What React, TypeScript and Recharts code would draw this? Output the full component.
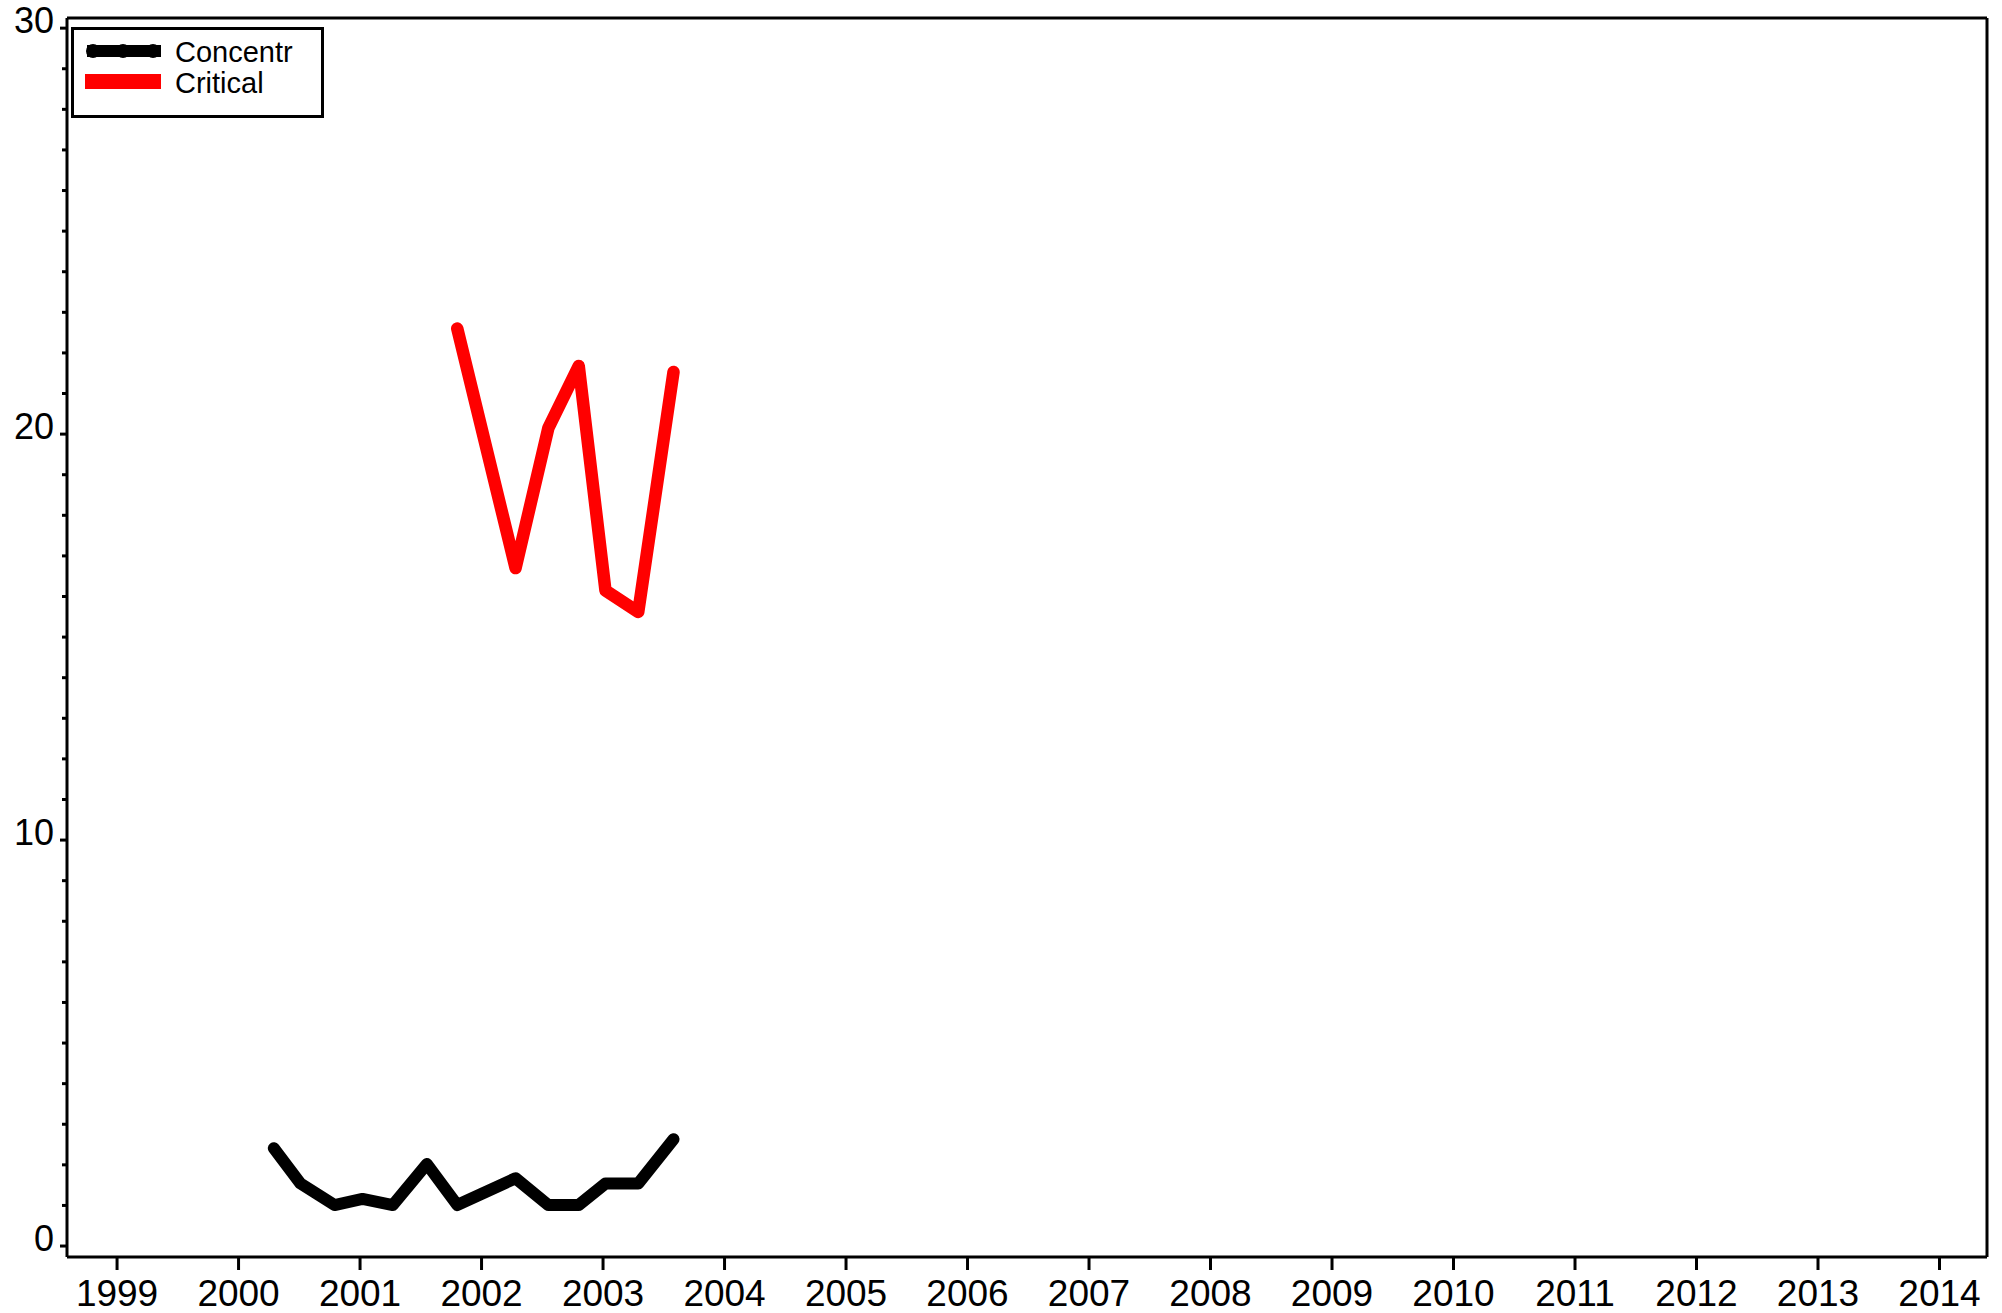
import React from "react";
import { LineChart, Line, XAxis, YAxis, Legend } from "recharts";

// quarterly observations, x read as decimal years
const obsTimes = [
  2000.29, 2000.51, 2000.79, 2001.02, 2001.27, 2001.55, 2001.8,
  2002.28, 2002.55, 2002.8, 2003.02, 2003.29, 2003.58,
];
const concentr = [2.41, 1.54, 1.01, 1.16, 1.01, 2.02, 1.01, 1.67, 1.01, 1.01, 1.54, 1.54, 2.63];
const critical = [null, null, null, null, null, null, 22.6, 16.7, 20.15, 21.68, 16.15, 15.62, 21.53];

const yearTicks = [1999, 2000, 2001, 2002, 2003, 2004, 2005, 2006, 2007, 2008, 2009, 2010, 2011, 2012, 2013, 2014];
const valueTicks = Array.from({ length: 31 }, (_, i) => i);
const labelledValues = [0, 10, 20, 30];

const data = obsTimes.map((t, i) => ({ t, concentr: concentr[i], critical: critical[i] }));

const FONT = "'Liberation Sans', Arial, sans-serif";
const X_DOMAIN: [number, number] = [1998.588, 2014.391];
const Y_DOMAIN: [number, number] = [-0.27, 30.25];

const XTick = (props: any) => {
  const { x, y, payload } = props;
  return (
    <g>
      <line x1={x} x2={x} y1={y} y2={y + 13} stroke="#000" strokeWidth={3} />
      <text x={x} y={y + 49} textAnchor="middle" fontSize={37} fontFamily={FONT} fill="#000">
        {payload.value}
      </text>
    </g>
  );
};

const YTick = (props: any) => {
  const { x, y, payload } = props;
  const major = labelledValues.includes(payload.value);
  return (
    <g>
      <line x1={x - (major ? 7 : 5)} x2={x} y1={y} y2={y} stroke="#000" strokeWidth={3} />
      {major && (
        <text x={x - 13} y={y + 5} textAnchor="end" fontSize={36} fontFamily={FONT} fill="#000">
          {payload.value}
        </text>
      )}
    </g>
  );
};

const LegendBox = () => (
  <svg width={254} height={92} style={{ display: "block" }}>
    <rect x={1.5} y={1.5} width={250} height={88} fill="#fff" stroke="#000" strokeWidth={3} />
    <line x1={16} x2={90} y1={24} y2={24} stroke="#000" strokeWidth={12} />
    {[22, 52, 82].map((cx) => (
      <circle key={cx} cx={cx} cy={24} r={7} fill="#000" />
    ))}
    <text x={104} y={35} fontSize={29} fontFamily={FONT} fill="#000">Concentr</text>
    <rect x={14} y={47} width={76} height={15} fill="#ff0000" />
    <text x={104} y={66} fontSize={29} fontFamily={FONT} fill="#000">Critical</text>
  </svg>
);

export default function App() {
  return (
    <div style={{ position: "absolute", left: 0, top: 0, background: "#fff" }}>
      <LineChart width={2002} height={1313} data={data} margin={{ top: 0, right: 0, left: 0, bottom: 0 }}>
        <XAxis
          dataKey="t"
          type="number"
          domain={X_DOMAIN}
          ticks={yearTicks}
          allowDataOverflow
          height={56}
          tickSize={0}
          tickMargin={0}
          tick={<XTick />}
          axisLine={{ stroke: "#000", strokeWidth: 3 }}
          tickLine={false}
        />
        <XAxis
          xAxisId="top"
          orientation="top"
          type="number"
          domain={X_DOMAIN}
          height={18}
          tick={false}
          tickLine={false}
          axisLine={{ stroke: "#000", strokeWidth: 3 }}
        />
        <YAxis
          type="number"
          domain={Y_DOMAIN}
          ticks={valueTicks}
          allowDataOverflow
          width={67}
          tickSize={0}
          tickMargin={0}
          tick={<YTick />}
          axisLine={{ stroke: "#000", strokeWidth: 3 }}
          tickLine={false}
          interval={0}
        />
        <YAxis
          yAxisId="right"
          orientation="right"
          type="number"
          domain={[0, 1]}
          width={15}
          tick={false}
          tickLine={false}
          axisLine={{ stroke: "#000", strokeWidth: 3 }}
        />
        <Legend
          layout="horizontal"
          verticalAlign="middle"
          align="center"
          content={<LegendBox />}
          wrapperStyle={{ position: "absolute", left: 71, top: 27, width: 254 }}
        />
        <Line
          dataKey="concentr"
          stroke="#000"
          strokeWidth={12}
          strokeLinejoin="round"
          strokeLinecap="round"
          dot={false}
          activeDot={false}
          isAnimationActive={false}
        />
        <Line
          dataKey="critical"
          stroke="#ff0000"
          strokeWidth={12.5}
          strokeLinejoin="round"
          strokeLinecap="round"
          dot={false}
          activeDot={false}
          isAnimationActive={false}
        />
      </LineChart>
    </div>
  );
}
